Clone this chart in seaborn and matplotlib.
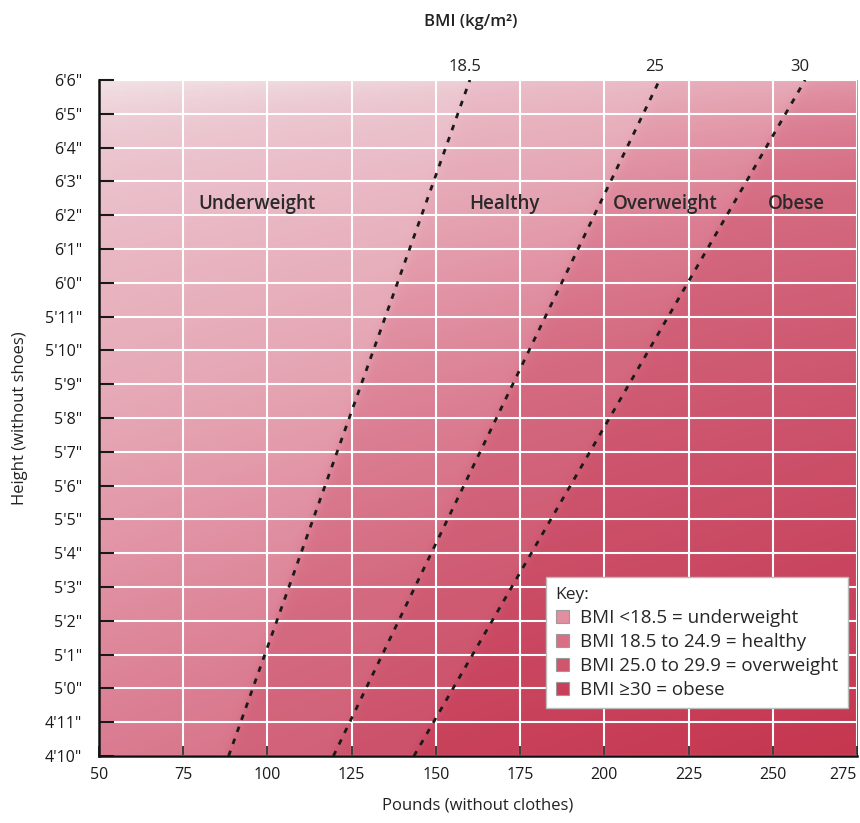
import numpy as np
import matplotlib
matplotlib.use("Agg")
import matplotlib.pyplot as plt
import matplotlib.transforms as mtransforms
import seaborn as sns
from matplotlib.colors import LinearSegmentedColormap

# axis ticks
pounds = [50, 75, 100, 125, 150, 175, 200, 225, 250, 275]
height_in = list(range(58, 79))
height_labels = ["4'10\"", "4'11\"", "5'0\"", "5'1\"", "5'2\"", "5'3\"", "5'4\"",
                 "5'5\"", "5'6\"", "5'7\"", "5'8\"", "5'9\"", "5'10\"", "5'11\"",
                 "6'0\"", "6'1\"", "6'2\"", "6'3\"", "6'4\"", "6'5\"", "6'6\""]

# BMI cut-off lines, read at bottom (4'10") and top (6'6") of chart
bmi_labels = ["18.5", "25", "30"]
lbs_at_bottom = [88.5, 119.6, 143.5]
lbs_at_top = [160.1, 216.4, 259.6]

# zone names and where they sit
zones = ["Underweight", "Healthy", "Overweight", "Obese"]
zone_x = [97, 170.5, 218, 257]

key_labels = ["BMI <18.5 = underweight", "BMI 18.5 to 24.9 = healthy",
              "BMI 25.0 to 29.9 = overweight", "BMI \u226530 = obese"]
key_colors = ["#e38ea0", "#d96e84", "#d0566d", "#c93f59"]

sns.set_theme(style="white")
plt.rcParams['font.family'] = ['Open Sans', 'DejaVu Sans']

fig = plt.figure(figsize=(8.6, 8.23), dpi=100)
ax = fig.add_axes([0.115, 0.0814, 0.8815, 0.8214])

# pink background: darker to the right, further down and in each heavier zone
cmap = LinearSegmentedColormap.from_list("bmi", [
    (0.0, "#f2e6ea"), (0.12, "#ecc8d1"), (0.34, "#e6a8b6"), (0.40, "#e39aaa"),
    (0.50, "#dc8095"), (0.60, "#d46a80"), (0.75, "#ce5870"), (0.87, "#ca4862"),
    (1.0, "#c6364f")])
gw = np.linspace(50, 275, 900)
gh = np.linspace(58, 78, 400)
W, H = np.meshgrid(gw, gh)
xn = (W - 50) / 225
down = ((78 - H) / 20) ** 0.6
zone = np.zeros_like(W)
for lo, hi in zip(lbs_at_bottom, lbs_at_top):
    edge = lo + (hi - lo) * (H - 58) / 20
    zone += 1 / (1 + np.exp(-(W - edge) / 0.8))
shade = np.clip(0.15 * xn + 0.52 * down + zone * (0.08 + 0.03 * down), 0, 1)
ax.imshow(shade, cmap=cmap, extent=[50, 275, 58, 78], origin="lower",
          aspect="auto", zorder=0, vmin=0, vmax=1)

for lo, hi in zip(lbs_at_bottom, lbs_at_top):
    sns.lineplot(x=[lo, hi], y=[58, 78], color="#1a1a1a", lw=2,
                 linestyle=(0, (2, 2.6)), ax=ax, zorder=3)

for lbl, hi in zip(bmi_labels, lbs_at_top):
    ax.text(hi - 1.5, 78.15, lbl, ha="center", va="bottom", fontsize=12,
            color="#222222", clip_on=False)

for z, zx in zip(zones, zone_x):
    ax.text(zx, 74.33, z, ha="center", va="center", fontsize=13.5,
            fontweight="semibold", color="#2a2a2a", zorder=4)

ax.set_xlim(50, 275)
ax.set_ylim(58, 78)
ax.set_xticks(pounds)
ax.set_yticks(height_in)
ax.set_yticklabels(height_labels)
ax.grid(True, color="white", lw=1.5)
ax.set_axisbelow(True)
ax.tick_params(axis="both", labelsize=11.5, colors="#1a1a1a")
ax.tick_params(axis="y", direction="in", length=11, width=1.5, left=True, pad=12)
ax.tick_params(axis="x", direction="in", length=7, width=1.2, bottom=True, pad=8)
for s in ["top", "right"]:
    ax.spines[s].set_visible(False)
for s in ["left", "bottom"]:
    ax.spines[s].set_color("#111111")
    ax.spines[s].set_linewidth(1.8)

# keep the last tick label inside the image
last = ax.get_xticklabels()[-1]
last.set_transform(last.get_transform() +
                   mtransforms.ScaledTranslation(-10 / 72, 0, fig.dpi_scale_trans))

ax.set_xlabel("Pounds (without clothes)", fontsize=12, color="#222222", labelpad=10)
ax.set_ylabel("Height (without shoes)", fontsize=12, color="#222222", labelpad=12)
fig.text(0.547, 0.973, "BMI (kg/m\u00b2)", ha="center", va="center",
         fontsize=12, fontweight="semibold", color="#222222")

handles = [plt.Rectangle((0, 0), 1, 1, facecolor=c, edgecolor="#9a9a9a", lw=0.8)
           for c in key_colors]
leg = ax.legend(handles, key_labels, title="Key:", loc="lower right",
                bbox_to_anchor=(1.0, 0.057), fontsize=13.5, title_fontsize=12.5,
                frameon=True, fancybox=False, framealpha=1, edgecolor="#bbbbbb",
                handlelength=0.7, handleheight=0.7, handletextpad=0.6,
                labelspacing=0.32, borderpad=0.5, alignment="left")
leg.set_zorder(5)

fig.savefig("out.png", dpi=100)
